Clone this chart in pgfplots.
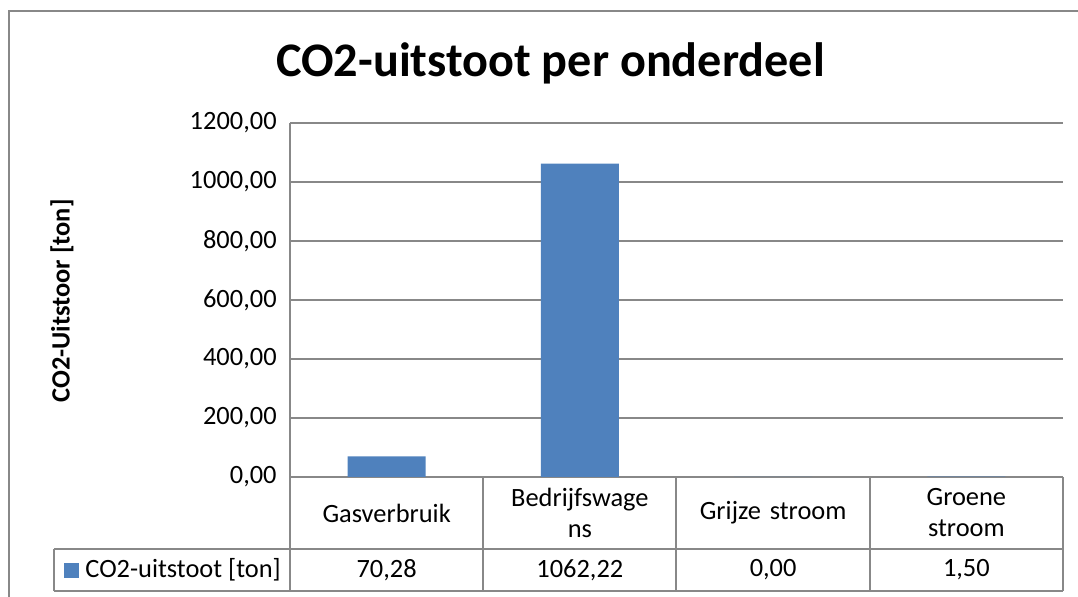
\documentclass[border=0pt]{standalone}
\usepackage{pgfplots}
\pgfplotsset{compat=1.18}
\usepackage{pgfplotstable}
\usepackage{fontspec}
\setmainfont{Carlito}
\definecolor{barblue}{HTML}{4F81BD}
\definecolor{gridgray}{HTML}{888888}

\pgfplotstableread{
x y
0 70.28
1 1062.22
2 0.00
3 1.50
}\datatable

\begin{document}
\fontsize{13.2pt}{15.5pt}\selectfont
\begin{tikzpicture}
\path[use as bounding box] (0pt,0pt) rectangle (539pt,-298.5pt);
\begin{scope}[x=0.5pt,y=-0.5pt]
\begin{scope}
\clip (0,0) rectangle (1078,597);
\draw[gridgray, line width=0.75pt] (9,11) rectangle (1110,620);
\end{scope}
% title
\node[font=\fontsize{24.1pt}{28pt}\selectfont\bfseries] at (550.5,63) {CO2-uitstoot per onderdeel};
% y label
\node[rotate=90, font=\fontsize{13.2pt}{15.5pt}\selectfont\bfseries] at (62,301) {CO2-Uitstoor [ton]};
% data table grid
\draw[gridgray, line width=0.75pt] (54,549) -- (1063,549);
\draw[gridgray, line width=0.75pt] (54,591) -- (1063,591);
\draw[gridgray, line width=0.75pt] (54,549) -- (54,591);
\foreach \xx in {290,483,676,870,1063} {
  \draw[gridgray, line width=0.75pt] (\xx,477) -- (\xx,591);
}
% legend key
\fill[barblue] (64,563) rectangle (79,578);
\node[anchor=west, inner sep=0pt] at (85,570) {CO2-uitstoot [ton]};
\end{scope}
\pgfkeys{/pgf/number format/.cd, fixed, fixed zerofill, precision=2, use comma, 1000 sep={}, assume math mode=true}
\begin{axis}[
  at={(145pt,-238.5pt)}, anchor=south west,
  scale only axis, width=386.5pt, height=177pt,
  xmin=-0.5, xmax=3.5, ymin=0, ymax=1200,
  ytick={0,200,...,1200},
  xtick={0,1,2,3},
  xticklabels={Gasverbruik,{Bedrijfswage\\ns},Grijze stroom,{Groene\\stroom}},
  axis lines*=left,
  axis line style={gridgray, line width=0.75pt, -},
  ymajorgrids,
  grid style={gridgray, line width=0.75pt},
  major tick length=0pt,
  tick style={draw=none},
  clip=false,
  yticklabel style={anchor=east, inner sep=0pt, xshift=-6.5pt, font=\fontsize{13.2pt}{15.5pt}\selectfont},
  xticklabel style={anchor=center, yshift=-18pt, align=center, text width=90pt, inner sep=0pt, font=\fontsize{13.2pt}{15.5pt}\selectfont},
]
\addplot[ybar, bar width=39pt, fill=barblue, draw=none] table[x=x, y=y] {\datatable};
\addplot[draw=none, mark=none, point meta=explicit, nodes near coords, nodes near coords align={center},
  every node near coord/.append style={anchor=center, inner sep=0pt, font=\fontsize{13.2pt}{15.5pt}\selectfont}]
  table[x=x, y expr=-315.3, meta=y] {\datatable};
\end{axis}
\end{tikzpicture}
\end{document}
